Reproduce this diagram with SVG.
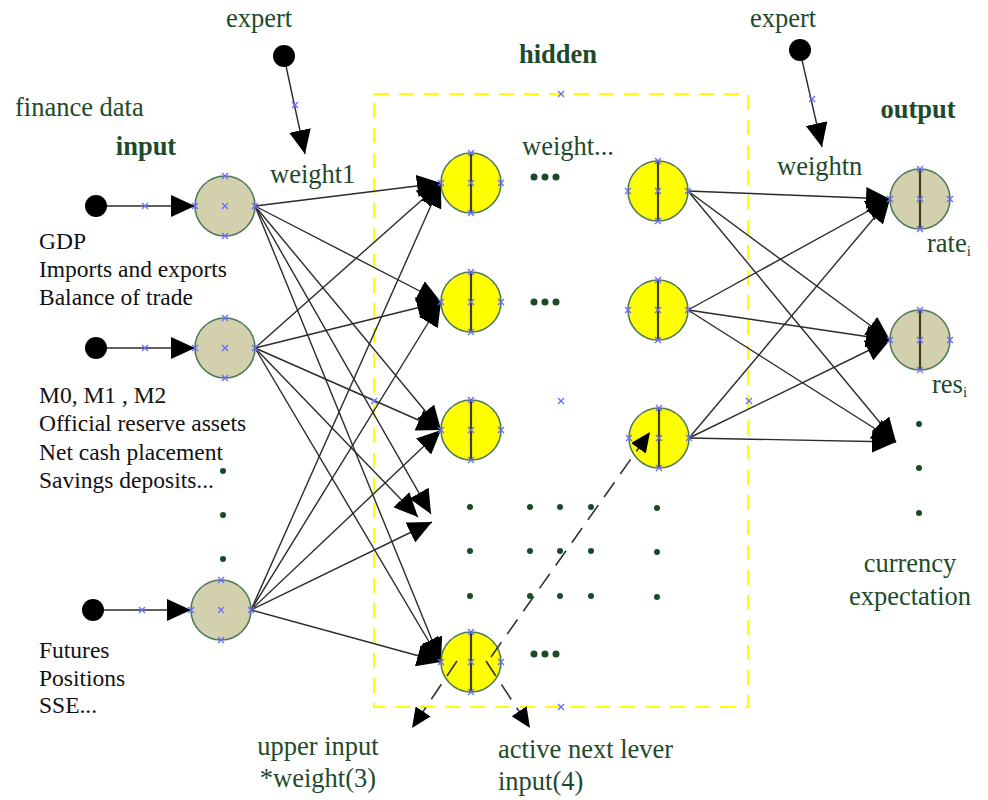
<svg xmlns="http://www.w3.org/2000/svg" xmlns:xlink="http://www.w3.org/1999/xlink" width="988" height="800" viewBox="0 0 988 800">
  <style>
    .lbl { font-family: "Liberation Serif", "Times New Roman", serif; fill: #1e4a2c; font-size: 26.5px; }
    .bold { font-weight: bold; }
    .blk { font-family: "Liberation Serif", "Times New Roman", serif; fill: #111; font-size: 23.5px; }
    .inNode { fill: #d3d0ae; stroke: #4d7a5a; stroke-width: 1.6; }
    .hidNode { fill: #ffff00; stroke: #4d7a5a; stroke-width: 1.6; }
    .outNode { fill: #d3d0ae; stroke: #4d7a5a; stroke-width: 1.6; }
    .axis { stroke: #3f3f18; stroke-width: 2.2; }
    .src { fill: #000; }
    .edge { stroke: #2b2b2b; stroke-width: 1.4; fill: none; marker-end: url(#tri); }
    .dash { stroke: #333; stroke-width: 1.6; fill: none; stroke-dasharray: 18 10; marker-end: url(#triS); }
    .dot { fill: #1a4a2a; }
    .mk { stroke: #6a6aff; stroke-width: 1.3; fill: none; }
    .frame { fill: none; stroke: #ffff00; stroke-width: 2; stroke-dasharray: 15 10; }
  </style>
  <defs>
    <marker id="tri" viewBox="0 0 24 22" refX="24" refY="11" markerWidth="24" markerHeight="22" markerUnits="userSpaceOnUse" orient="auto">
      <path d="M0,0 L24,11 L0,22 z" fill="#000"/>
    </marker>
    <marker id="triS" viewBox="0 0 20 18" refX="20" refY="9" markerWidth="20" markerHeight="18" markerUnits="userSpaceOnUse" orient="auto">
      <path d="M0,0 L20,9 L0,18 z" fill="#000"/>
    </marker>
    <path id="x" d="M-3,-3 L3,3 M-3,3 L3,-3"/>
  </defs>

  <rect x="0" y="0" width="988" height="800" fill="#fff"/>

  <!-- hidden layer frame -->
  <rect class="frame" x="374" y="94" width="374" height="613"/>

  <!-- connectors -->
  <g id="connectors">
    <!-- sources into input layer -->
    <line class="edge" x1="107" y1="206" x2="195" y2="206"/>
    <line class="edge" x1="107" y1="348" x2="195" y2="348"/>
    <line class="edge" x1="104" y1="610" x2="191" y2="610"/>
    <!-- expert weights -->
    <line class="edge" x1="286" y1="66" x2="305" y2="154"/>
    <line class="edge" x1="802" y1="60" x2="822" y2="147"/>
    <!-- input -> hidden -->
    <line class="edge" x1="255" y1="206" x2="441" y2="183"/>
    <line class="edge" x1="255" y1="206" x2="441" y2="302"/>
    <line class="edge" x1="255" y1="206" x2="441" y2="430"/>
    <line class="edge" x1="255" y1="206" x2="431" y2="514"/>
    <line class="edge" x1="255" y1="206" x2="441" y2="662"/>
    <line class="edge" x1="255" y1="348" x2="441" y2="183"/>
    <line class="edge" x1="255" y1="348" x2="441" y2="302"/>
    <line class="edge" x1="255" y1="348" x2="441" y2="430"/>
    <line class="edge" x1="255" y1="348" x2="418" y2="517"/>
    <line class="edge" x1="255" y1="348" x2="441" y2="662"/>
    <line class="edge" x1="251" y1="610" x2="441" y2="183"/>
    <line class="edge" x1="251" y1="610" x2="441" y2="302"/>
    <line class="edge" x1="251" y1="610" x2="441" y2="430"/>
    <line class="edge" x1="251" y1="610" x2="432" y2="522"/>
    <line class="edge" x1="251" y1="610" x2="441" y2="662"/>
    <!-- hidden -> output -->
    <line class="edge" x1="688" y1="191" x2="890" y2="199"/>
    <line class="edge" x1="688" y1="191" x2="890" y2="340"/>
    <line class="edge" x1="688" y1="191" x2="896" y2="442"/>
    <line class="edge" x1="688" y1="310" x2="890" y2="199"/>
    <line class="edge" x1="688" y1="310" x2="890" y2="340"/>
    <line class="edge" x1="688" y1="310" x2="896" y2="442"/>
    <line class="edge" x1="689" y1="438" x2="890" y2="199"/>
    <line class="edge" x1="689" y1="438" x2="890" y2="340"/>
    <line class="edge" x1="689" y1="438" x2="896" y2="442"/>
  </g>

  <!-- source dots -->
  <g id="src-expert-1"><circle class="src" cx="284" cy="56" r="11"/></g>
  <g id="src-expert-2"><circle class="src" cx="800" cy="50" r="11"/></g>
  <g id="src-1"><circle class="src" cx="96" cy="206" r="11"/></g>
  <g id="src-2"><circle class="src" cx="96" cy="348" r="11"/></g>
  <g id="src-3"><circle class="src" cx="93" cy="610" r="11"/></g>

  <!-- input layer -->
  <g id="in-1"><circle class="inNode" cx="225" cy="206" r="30"/></g>
  <g id="in-2"><circle class="inNode" cx="225" cy="348" r="30"/></g>
  <g id="in-3"><circle class="inNode" cx="221" cy="610" r="30"/></g>

  <!-- hidden layer -->
  <g id="h-1"><circle class="hidNode" cx="471" cy="183" r="30"/><line class="axis" x1="471" y1="153" x2="471" y2="213"/></g>
  <g id="h-2"><circle class="hidNode" cx="471" cy="302" r="30"/><line class="axis" x1="471" y1="272" x2="471" y2="332"/></g>
  <g id="h-3"><circle class="hidNode" cx="471" cy="430" r="30"/><line class="axis" x1="471" y1="400" x2="471" y2="460"/></g>
  <g id="h-4"><circle class="hidNode" cx="471" cy="662" r="30"/><line class="axis" x1="471" y1="632" x2="471" y2="692"/></g>
  <g id="h-5"><circle class="hidNode" cx="658" cy="191" r="30"/><line class="axis" x1="658" y1="161" x2="658" y2="221"/></g>
  <g id="h-6"><circle class="hidNode" cx="658" cy="310" r="30"/><line class="axis" x1="658" y1="280" x2="658" y2="340"/></g>
  <g id="h-7"><circle class="hidNode" cx="659" cy="438" r="30"/><line class="axis" x1="659" y1="408" x2="659" y2="468"/></g>

  <!-- output layer -->
  <g id="out-1"><circle class="outNode" cx="920" cy="199" r="30"/><line class="axis" x1="920" y1="169" x2="920" y2="229"/></g>
  <g id="out-2"><circle class="outNode" cx="920" cy="340" r="30"/><line class="axis" x1="920" y1="310" x2="920" y2="370"/></g>

  <!-- neuron signal paths, drawn over the neurons -->
  <g id="signal-connectors">
    <line class="dash" x1="491" y1="657" x2="650" y2="432"/>
    <line class="dash" x1="457" y1="661" x2="412" y2="728"/>
    <line class="dash" x1="486" y1="661" x2="530" y2="728"/>
  </g>

  <!-- ellipsis dots -->
  <g id="ellipses">
    <circle class="dot" cx="534" cy="177" r="3.5"/><circle class="dot" cx="545" cy="177" r="3.5"/><circle class="dot" cx="556" cy="177" r="3.5"/>
    <circle class="dot" cx="534" cy="302" r="3.5"/><circle class="dot" cx="545" cy="302" r="3.5"/><circle class="dot" cx="556" cy="302" r="3.5"/>
    <circle class="dot" cx="534" cy="654" r="3.5"/><circle class="dot" cx="545" cy="654" r="3.5"/><circle class="dot" cx="556" cy="654" r="3.5"/>
    <circle class="dot" cx="223" cy="471" r="3"/><circle class="dot" cx="223" cy="515" r="3"/><circle class="dot" cx="223" cy="559" r="3"/>
    <circle class="dot" cx="470" cy="507" r="3"/><circle class="dot" cx="530" cy="507" r="3"/><circle class="dot" cx="560" cy="507" r="3"/><circle class="dot" cx="591" cy="507" r="3"/><circle class="dot" cx="657" cy="508" r="3"/>
    <circle class="dot" cx="470" cy="551" r="3"/><circle class="dot" cx="530" cy="551" r="3"/><circle class="dot" cx="560" cy="551" r="3"/><circle class="dot" cx="591" cy="551" r="3"/><circle class="dot" cx="657" cy="552" r="3"/>
    <circle class="dot" cx="470" cy="596" r="3"/><circle class="dot" cx="530" cy="596" r="3"/><circle class="dot" cx="560" cy="596" r="3"/><circle class="dot" cx="591" cy="596" r="3"/><circle class="dot" cx="657" cy="597" r="3"/>
    <circle class="dot" cx="919" cy="424" r="3"/><circle class="dot" cx="919" cy="468" r="3"/><circle class="dot" cx="919" cy="513" r="3"/>
  </g>

  <!-- anchor markers -->
  <g id="anchors" class="mk">
    <use xlink:href="#x" x="225" y="176"/><use xlink:href="#x" x="195" y="206"/><use xlink:href="#x" x="225" y="206"/><use xlink:href="#x" x="255" y="206"/><use xlink:href="#x" x="225" y="236"/>
    <use xlink:href="#x" x="225" y="318"/><use xlink:href="#x" x="195" y="348"/><use xlink:href="#x" x="225" y="348"/><use xlink:href="#x" x="255" y="348"/><use xlink:href="#x" x="225" y="378"/>
    <use xlink:href="#x" x="221" y="580"/><use xlink:href="#x" x="191" y="610"/><use xlink:href="#x" x="221" y="610"/><use xlink:href="#x" x="251" y="610"/><use xlink:href="#x" x="221" y="640"/>
    <use xlink:href="#x" x="471" y="153"/><use xlink:href="#x" x="441" y="183"/><use xlink:href="#x" x="471" y="183"/><use xlink:href="#x" x="501" y="183"/><use xlink:href="#x" x="471" y="213"/>
    <use xlink:href="#x" x="471" y="272"/><use xlink:href="#x" x="441" y="302"/><use xlink:href="#x" x="471" y="302"/><use xlink:href="#x" x="501" y="302"/><use xlink:href="#x" x="471" y="332"/>
    <use xlink:href="#x" x="471" y="400"/><use xlink:href="#x" x="441" y="430"/><use xlink:href="#x" x="471" y="430"/><use xlink:href="#x" x="501" y="430"/><use xlink:href="#x" x="471" y="460"/>
    <use xlink:href="#x" x="471" y="632"/><use xlink:href="#x" x="441" y="662"/><use xlink:href="#x" x="471" y="662"/><use xlink:href="#x" x="501" y="662"/><use xlink:href="#x" x="471" y="692"/>
    <use xlink:href="#x" x="658" y="161"/><use xlink:href="#x" x="628" y="191"/><use xlink:href="#x" x="658" y="191"/><use xlink:href="#x" x="688" y="191"/><use xlink:href="#x" x="658" y="221"/>
    <use xlink:href="#x" x="658" y="280"/><use xlink:href="#x" x="628" y="310"/><use xlink:href="#x" x="658" y="310"/><use xlink:href="#x" x="688" y="310"/><use xlink:href="#x" x="658" y="340"/>
    <use xlink:href="#x" x="659" y="408"/><use xlink:href="#x" x="629" y="438"/><use xlink:href="#x" x="659" y="438"/><use xlink:href="#x" x="689" y="438"/><use xlink:href="#x" x="659" y="468"/>
    <use xlink:href="#x" x="920" y="169"/><use xlink:href="#x" x="890" y="199"/><use xlink:href="#x" x="920" y="199"/><use xlink:href="#x" x="950" y="199"/><use xlink:href="#x" x="920" y="229"/>
    <use xlink:href="#x" x="920" y="310"/><use xlink:href="#x" x="890" y="340"/><use xlink:href="#x" x="920" y="340"/><use xlink:href="#x" x="950" y="340"/><use xlink:href="#x" x="920" y="370"/>
    <use xlink:href="#x" x="145" y="206"/><use xlink:href="#x" x="145" y="348"/><use xlink:href="#x" x="142" y="610"/>
    <use xlink:href="#x" x="295" y="105"/><use xlink:href="#x" x="812" y="99"/>
    <use xlink:href="#x" x="561" y="94"/><use xlink:href="#x" x="561" y="707"/><use xlink:href="#x" x="374" y="401"/><use xlink:href="#x" x="749" y="401"/><use xlink:href="#x" x="561" y="401"/>
  </g>

  <!-- labels -->
  <g id="labels">
    <text class="lbl" x="259" y="27" text-anchor="middle">expert</text>
    <text class="lbl" x="783" y="27" text-anchor="middle">expert</text>
    <text class="lbl" x="15" y="116">finance data</text>
    <text class="lbl bold" x="146" y="155" text-anchor="middle">input</text>
    <text class="lbl bold" x="558" y="63" text-anchor="middle">hidden</text>
    <text class="lbl bold" x="918" y="118" text-anchor="middle">output</text>
    <text class="lbl" x="270" y="183">weight1</text>
    <text class="lbl" x="522" y="155">weight...</text>
    <text class="lbl" x="777" y="175">weightn</text>
    <text class="lbl" x="927" y="252">rate<tspan font-size="15" dy="4">i</tspan></text>
    <text class="lbl" x="932" y="393">res<tspan font-size="15" dy="4">i</tspan></text>
    <text class="lbl" x="910" y="572" text-anchor="middle">currency</text>
    <text class="lbl" x="910" y="605" text-anchor="middle">expectation</text>
    <text class="lbl" x="318" y="755" text-anchor="middle">upper input</text>
    <text class="lbl" x="318" y="787" text-anchor="middle">*weight(3)</text>
    <text class="lbl" x="498" y="758">active next lever</text>
    <text class="lbl" x="498" y="790">input(4)</text>

    <text class="blk" x="39" y="249">GDP</text>
    <text class="blk" x="39" y="277">Imports and exports</text>
    <text class="blk" x="39" y="305">Balance of trade</text>
    <text class="blk" x="39" y="403">M0, M1 , M2</text>
    <text class="blk" x="39" y="431">Official reserve assets</text>
    <text class="blk" x="39" y="460">Net cash placement</text>
    <text class="blk" x="39" y="488">Savings deposits...</text>
    <text class="blk" x="39" y="658">Futures</text>
    <text class="blk" x="39" y="686">Positions</text>
    <text class="blk" x="39" y="713">SSE...</text>
  </g>
</svg>
